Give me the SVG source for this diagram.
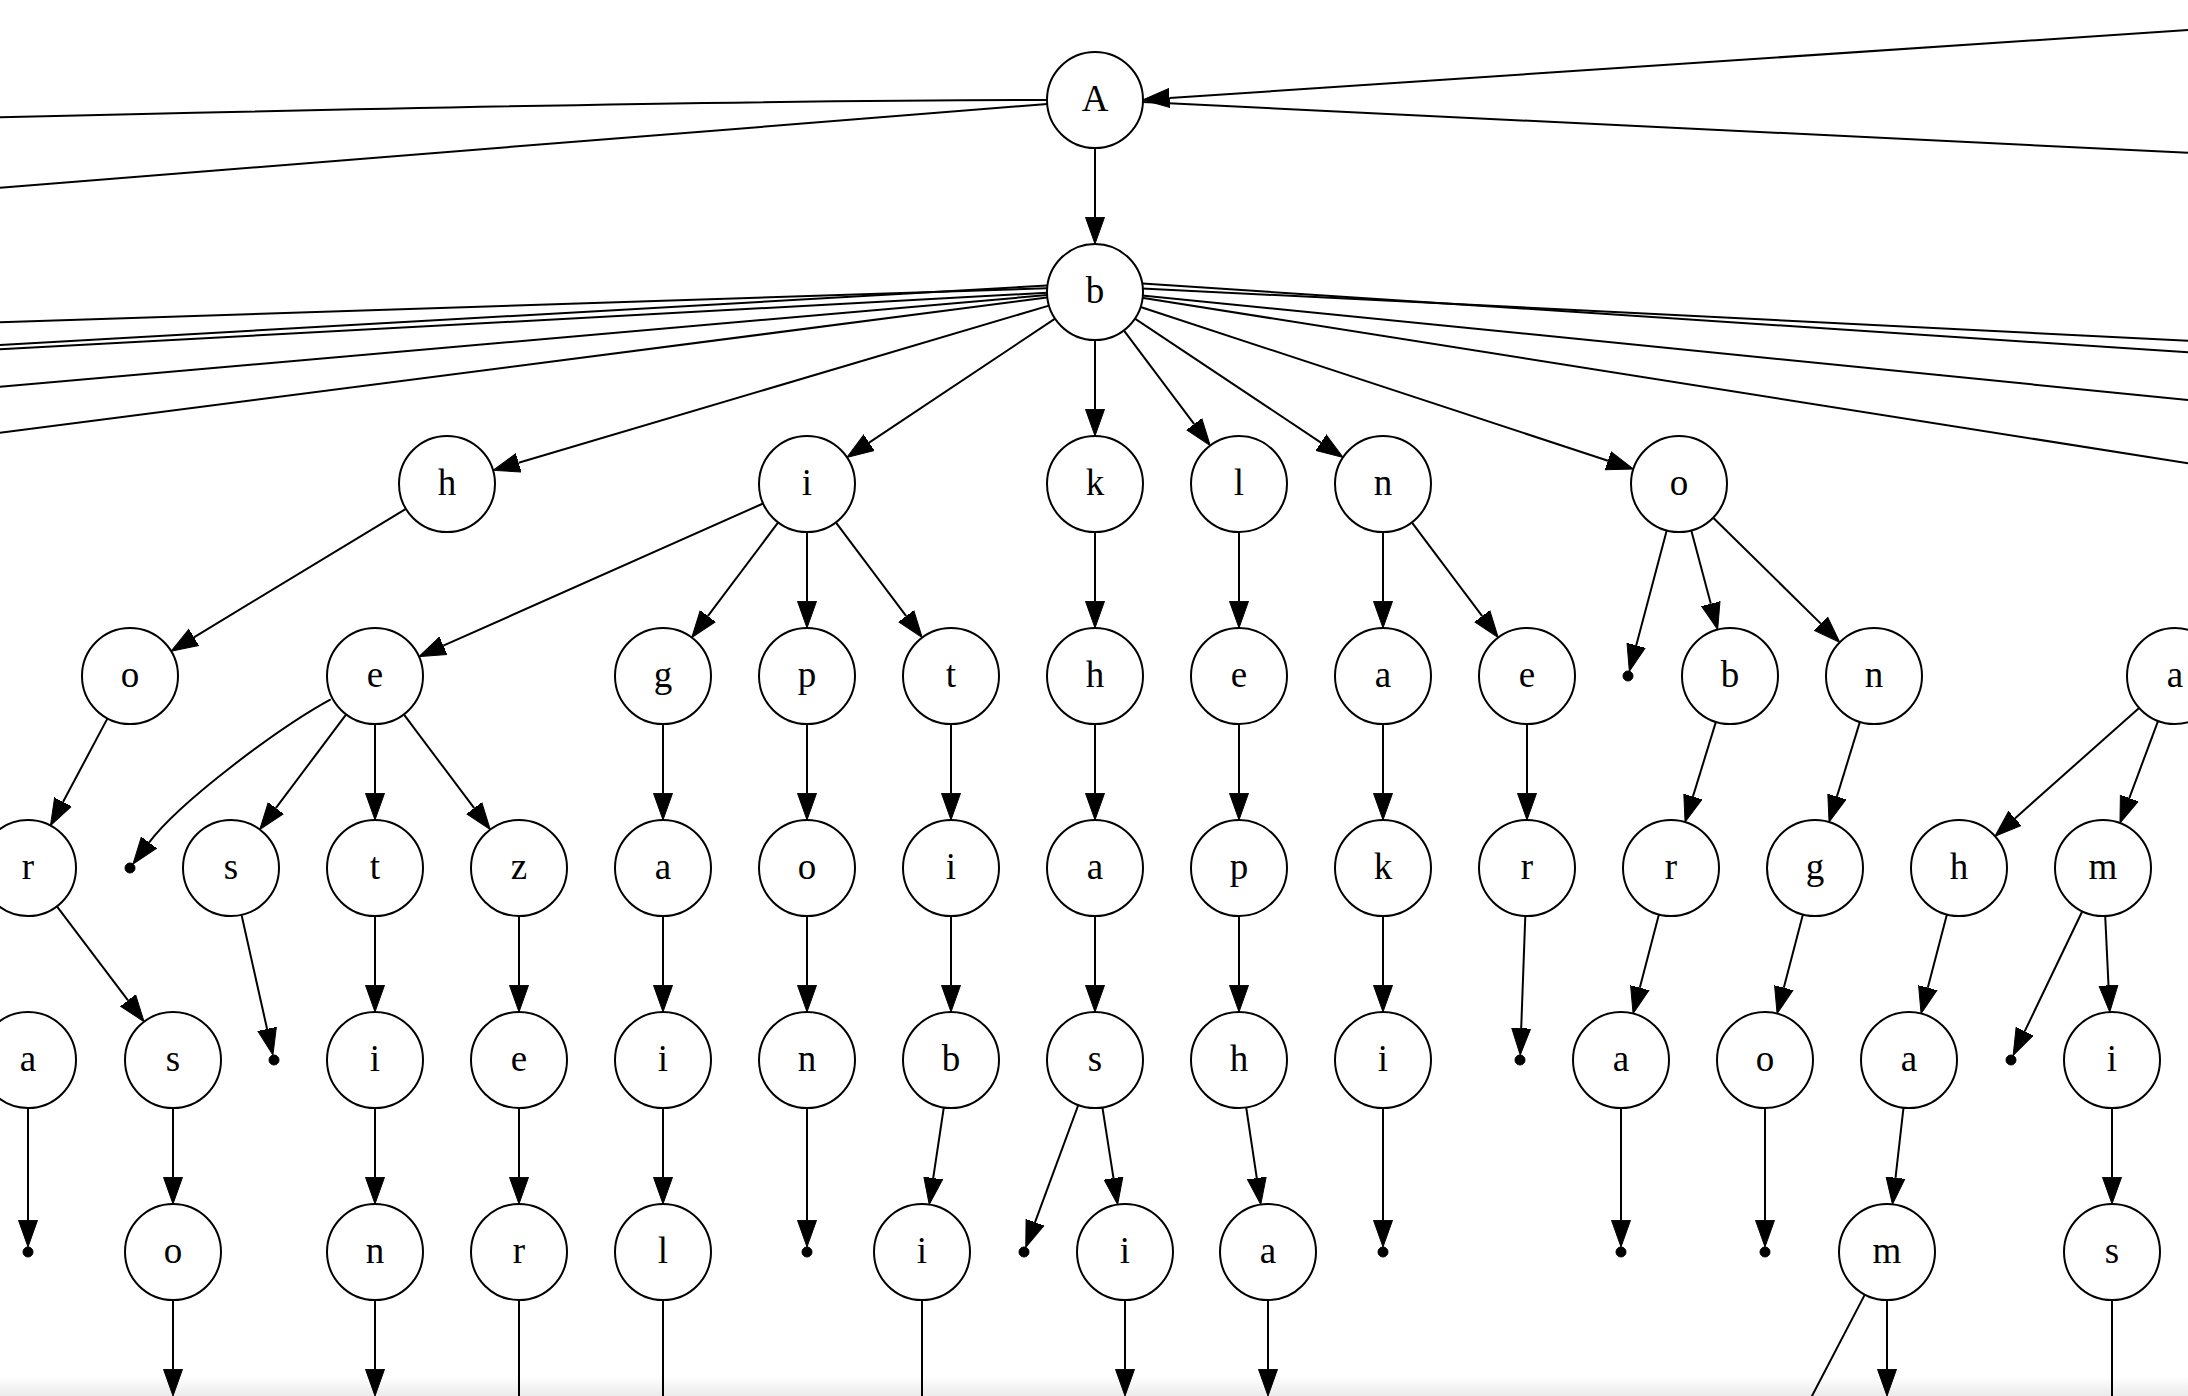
<svg xmlns="http://www.w3.org/2000/svg" width="2188" height="1396" viewBox="0 0 2188 1396">
<style>
.nd circle{fill:#fff;stroke:#000;stroke-width:2}
.nd text{font-family:"Liberation Serif","Times New Roman",serif;font-size:37px;text-anchor:middle;fill:#000}
.pt circle{fill:#000;stroke:#000;stroke-width:1}
#edges path{fill:none;stroke:#000;stroke-width:2}
#edges path.a{marker-end:url(#ah)}
</style>
<defs>
<marker id="ah" markerUnits="userSpaceOnUse" markerWidth="30" markerHeight="22" refX="0" refY="11" orient="auto" viewBox="0 0 30 22">
<path d="M0,1.5 L26.7,11 L0,20.5 z" fill="#000" stroke="#000" stroke-width="1"/>
</marker>
<linearGradient id="shade" x1="0" y1="0" x2="0" y2="1">
<stop offset="0" stop-color="#ffffff"/>
<stop offset="1" stop-color="#ebebeb"/>
</linearGradient>
</defs>
<rect x="0" y="0" width="2188" height="1396" fill="#fff"/>
<rect x="0" y="1376" width="2188" height="20" fill="url(#shade)"/>
<g id="edges">
<!-- off-canvas edges from A -->
<path d="M0,117.3 Q721,100 1047,100"/>
<path d="M0,187.7 L1047.2,104"/>
<path class="a" d="M2188,30 L1169.5,98"/>
<path d="M1143,102.1 L2188,152.7"/>
<!-- off-canvas edges from b -->
<path d="M0,322.3 L1047,288.3"/>
<path d="M0,345 L1047,285.6"/>
<path d="M0,349.3 L1047,292.8"/>
<path d="M0,386.7 L1047,295.1"/>
<path d="M0,432.7 L1047,297.6"/>
<path d="M1142,288.4 L2188,340.7"/>
<path d="M1142.5,283.5 L2188,352.3"/>
<path d="M1142,295.4 L2188,400"/>
<path d="M1142,297.8 L2188,463.3"/>
<!-- A -> b -->
<path class="a" d="M1095,148 V217.3"/>
<!-- b -> row3 -->
<path class="a" d="M1049,305.6 L518.6,462.8"/>
<path class="a" d="M1055.1,318.6 L869.1,442.6"/>
<path class="a" d="M1095,340 V409.3"/>
<path class="a" d="M1123.8,330.4 L1194.2,424.2"/>
<path class="a" d="M1134.9,318.6 L1320.9,442.6"/>
<path class="a" d="M1140.6,307 L1608,460.7"/>
<!-- row3 -> row4 -->
<path class="a" d="M405.9,508.9 L193.9,637.3"/>
<path class="a" d="M763.1,503.5 L443.3,645.7"/>
<path class="a" d="M778.2,522.4 L707.8,616.2"/>
<path class="a" d="M807,532 V601.3"/>
<path class="a" d="M835.8,522.4 L906.2,616.2"/>
<path class="a" d="M1095,532 V601.3"/>
<path class="a" d="M1239,532 V601.3"/>
<path class="a" d="M1383,532 V601.3"/>
<path class="a" d="M1411.8,522.4 L1482.2,616.2"/>
<path class="a" d="M1666.7,530.4 L1636.2,645.4"/>
<path class="a" d="M1691.3,530.4 L1710.8,603.8"/>
<path class="a" d="M1713.2,517.7 L1820.8,623.6"/>
<!-- row4 -> row5 -->
<path class="a" d="M107.5,718.4 L63,802"/>
<path class="a" d="M330.7,699.3 C278,728 179,802.6 149,842.6"/>
<path class="a" d="M346.2,714.4 L275.8,808.2"/>
<path class="a" d="M375,724 V793.3"/>
<path class="a" d="M403.8,714.4 L474.2,808.2"/>
<path class="a" d="M663,724 V793.3"/>
<path class="a" d="M807,724 V793.3"/>
<path class="a" d="M951,724 V793.3"/>
<path class="a" d="M1095,724 V793.3"/>
<path class="a" d="M1239,724 V793.3"/>
<path class="a" d="M1383,724 V793.3"/>
<path class="a" d="M1527,724 V793.3"/>
<path class="a" d="M1715.9,721.9 L1692.9,796.6"/>
<path class="a" d="M1859.9,721.9 L1836.9,796.6"/>
<path class="a" d="M2139.1,707.9 L2014.9,818.4"/>
<path class="a" d="M2158.1,720.9 L2129.3,798.1"/>
<!-- row5 -> row6 -->
<path class="a" d="M56.9,906.3 L128,1000.4"/>
<path class="a" d="M241.5,914.8 L267.1,1029"/>
<path class="a" d="M375,916 V985.3"/>
<path class="a" d="M519,916 V985.3"/>
<path class="a" d="M663,916 V985.3"/>
<path class="a" d="M807,916 V985.3"/>
<path class="a" d="M951,916 V985.3"/>
<path class="a" d="M1095,916 V985.3"/>
<path class="a" d="M1239,916 V985.3"/>
<path class="a" d="M1383,916 V985.3"/>
<path class="a" d="M1525.3,916 L1521.2,1028.3"/>
<path class="a" d="M1658.9,914.4 L1639.8,987.8"/>
<path class="a" d="M1802.9,914.4 L1783.8,987.8"/>
<path class="a" d="M1946.9,914.4 L1927.8,987.8"/>
<path class="a" d="M2082.3,911.3 L2024.7,1031.4"/>
<path class="a" d="M2105.2,916 L2108.5,985.4"/>
<!-- row6 -> row7 -->
<path class="a" d="M28,1108 V1220.3"/>
<path class="a" d="M173,1108 V1177.3"/>
<path class="a" d="M375,1108 V1177.3"/>
<path class="a" d="M519,1108 V1177.3"/>
<path class="a" d="M663,1108 V1177.3"/>
<path class="a" d="M807,1108 V1220.3"/>
<path class="a" d="M943.8,1107.5 L933.2,1178.1"/>
<path class="a" d="M1078.3,1105 L1035,1222.3"/>
<path class="a" d="M1102.4,1107.4 L1113.5,1178.2"/>
<path class="a" d="M1246.2,1107.5 L1256.8,1178.1"/>
<path class="a" d="M1383,1108 V1220.3"/>
<path class="a" d="M1621,1108 V1220.3"/>
<path class="a" d="M1765,1108 V1220.3"/>
<path class="a" d="M1903.5,1107.7 L1895.5,1177.8"/>
<path class="a" d="M2112,1108 V1177.3"/>
<!-- row7 -> below -->
<path class="a" d="M173,1300 V1369.3"/>
<path class="a" d="M375,1300 V1369.3"/>
<path d="M519,1300 V1400"/>
<path d="M663,1300 V1400"/>
<path d="M922,1300 V1400"/>
<path class="a" d="M1125,1300 V1369.3"/>
<path class="a" d="M1268,1300 V1369.3"/>
<path class="a" d="M1887,1300 V1369.3"/>
<path d="M1864.8,1294.6 L1809.9,1400"/>
<path d="M2112,1300 V1400"/>
</g>
<g id="nodes">
<g id="n_A" class="nd"><circle cx="1095" cy="100" r="48"/><text x="1095" y="111">A</text></g>
<g id="n_b" class="nd"><circle cx="1095" cy="292" r="48"/><text x="1095" y="303">b</text></g>
<g id="n_bh" class="nd"><circle cx="447" cy="484" r="48"/><text x="447" y="495">h</text></g>
<g id="n_bi" class="nd"><circle cx="807" cy="484" r="48"/><text x="807" y="495">i</text></g>
<g id="n_bk" class="nd"><circle cx="1095" cy="484" r="48"/><text x="1095" y="495">k</text></g>
<g id="n_bl" class="nd"><circle cx="1239" cy="484" r="48"/><text x="1239" y="495">l</text></g>
<g id="n_bn" class="nd"><circle cx="1383" cy="484" r="48"/><text x="1383" y="495">n</text></g>
<g id="n_bo" class="nd"><circle cx="1679" cy="484" r="48"/><text x="1679" y="495">o</text></g>
<g id="n_bho" class="nd"><circle cx="130" cy="676" r="48"/><text x="130" y="687">o</text></g>
<g id="n_bie" class="nd"><circle cx="375" cy="676" r="48"/><text x="375" y="687">e</text></g>
<g id="n_big" class="nd"><circle cx="663" cy="676" r="48"/><text x="663" y="687">g</text></g>
<g id="n_bip" class="nd"><circle cx="807" cy="676" r="48"/><text x="807" y="687">p</text></g>
<g id="n_bit" class="nd"><circle cx="951" cy="676" r="48"/><text x="951" y="687">t</text></g>
<g id="n_bkh" class="nd"><circle cx="1095" cy="676" r="48"/><text x="1095" y="687">h</text></g>
<g id="n_ble" class="nd"><circle cx="1239" cy="676" r="48"/><text x="1239" y="687">e</text></g>
<g id="n_bna" class="nd"><circle cx="1383" cy="676" r="48"/><text x="1383" y="687">a</text></g>
<g id="n_bne" class="nd"><circle cx="1527" cy="676" r="48"/><text x="1527" y="687">e</text></g>
<g id="p_bo" class="pt"><circle cx="1628" cy="676" r="5"/></g>
<g id="n_bob" class="nd"><circle cx="1730" cy="676" r="48"/><text x="1730" y="687">b</text></g>
<g id="n_bon" class="nd"><circle cx="1874" cy="676" r="48"/><text x="1874" y="687">n</text></g>
<g id="n_xa" class="nd"><circle cx="2175" cy="676" r="48"/><text x="2175" y="687">a</text></g>
<g id="n_bhor" class="nd"><circle cx="28" cy="868" r="48"/><text x="28" y="879">r</text></g>
<g id="p_bie" class="pt"><circle cx="130" cy="868" r="5"/></g>
<g id="n_bies" class="nd"><circle cx="231" cy="868" r="48"/><text x="231" y="879">s</text></g>
<g id="n_biet" class="nd"><circle cx="375" cy="868" r="48"/><text x="375" y="879">t</text></g>
<g id="n_biez" class="nd"><circle cx="519" cy="868" r="48"/><text x="519" y="879">z</text></g>
<g id="n_biga" class="nd"><circle cx="663" cy="868" r="48"/><text x="663" y="879">a</text></g>
<g id="n_bipo" class="nd"><circle cx="807" cy="868" r="48"/><text x="807" y="879">o</text></g>
<g id="n_biti" class="nd"><circle cx="951" cy="868" r="48"/><text x="951" y="879">i</text></g>
<g id="n_bkha" class="nd"><circle cx="1095" cy="868" r="48"/><text x="1095" y="879">a</text></g>
<g id="n_blep" class="nd"><circle cx="1239" cy="868" r="48"/><text x="1239" y="879">p</text></g>
<g id="n_bnak" class="nd"><circle cx="1383" cy="868" r="48"/><text x="1383" y="879">k</text></g>
<g id="n_bner" class="nd"><circle cx="1527" cy="868" r="48"/><text x="1527" y="879">r</text></g>
<g id="n_bobr" class="nd"><circle cx="1671" cy="868" r="48"/><text x="1671" y="879">r</text></g>
<g id="n_bong" class="nd"><circle cx="1815" cy="868" r="48"/><text x="1815" y="879">g</text></g>
<g id="n_xah" class="nd"><circle cx="1959" cy="868" r="48"/><text x="1959" y="879">h</text></g>
<g id="n_xam" class="nd"><circle cx="2103" cy="868" r="48"/><text x="2103" y="879">m</text></g>
<g id="n_ya" class="nd"><circle cx="28" cy="1060" r="48"/><text x="28" y="1071">a</text></g>
<g id="n_bhors" class="nd"><circle cx="173" cy="1060" r="48"/><text x="173" y="1071">s</text></g>
<g id="p_bies" class="pt"><circle cx="274" cy="1060" r="5"/></g>
<g id="n_bieti" class="nd"><circle cx="375" cy="1060" r="48"/><text x="375" y="1071">i</text></g>
<g id="n_bieze" class="nd"><circle cx="519" cy="1060" r="48"/><text x="519" y="1071">e</text></g>
<g id="n_bigai" class="nd"><circle cx="663" cy="1060" r="48"/><text x="663" y="1071">i</text></g>
<g id="n_bipon" class="nd"><circle cx="807" cy="1060" r="48"/><text x="807" y="1071">n</text></g>
<g id="n_bitib" class="nd"><circle cx="951" cy="1060" r="48"/><text x="951" y="1071">b</text></g>
<g id="n_bkhas" class="nd"><circle cx="1095" cy="1060" r="48"/><text x="1095" y="1071">s</text></g>
<g id="n_bleph" class="nd"><circle cx="1239" cy="1060" r="48"/><text x="1239" y="1071">h</text></g>
<g id="n_bnaki" class="nd"><circle cx="1383" cy="1060" r="48"/><text x="1383" y="1071">i</text></g>
<g id="p_bner" class="pt"><circle cx="1520" cy="1060" r="5"/></g>
<g id="n_bobra" class="nd"><circle cx="1621" cy="1060" r="48"/><text x="1621" y="1071">a</text></g>
<g id="n_bongo" class="nd"><circle cx="1765" cy="1060" r="48"/><text x="1765" y="1071">o</text></g>
<g id="n_xaha" class="nd"><circle cx="1909" cy="1060" r="48"/><text x="1909" y="1071">a</text></g>
<g id="p_xam" class="pt"><circle cx="2011" cy="1060" r="5"/></g>
<g id="n_xami" class="nd"><circle cx="2112" cy="1060" r="48"/><text x="2112" y="1071">i</text></g>
<g id="p_ya" class="pt"><circle cx="28" cy="1252" r="5"/></g>
<g id="n_bhorso" class="nd"><circle cx="173" cy="1252" r="48"/><text x="173" y="1263">o</text></g>
<g id="n_bietin" class="nd"><circle cx="375" cy="1252" r="48"/><text x="375" y="1263">n</text></g>
<g id="n_biezer" class="nd"><circle cx="519" cy="1252" r="48"/><text x="519" y="1263">r</text></g>
<g id="n_bigail" class="nd"><circle cx="663" cy="1252" r="48"/><text x="663" y="1263">l</text></g>
<g id="p_bipon" class="pt"><circle cx="807" cy="1252" r="5"/></g>
<g id="n_bitibi" class="nd"><circle cx="922" cy="1252" r="48"/><text x="922" y="1263">i</text></g>
<g id="p_bkhas" class="pt"><circle cx="1024" cy="1252" r="5"/></g>
<g id="n_bkhasi" class="nd"><circle cx="1125" cy="1252" r="48"/><text x="1125" y="1263">i</text></g>
<g id="n_blepha" class="nd"><circle cx="1268" cy="1252" r="48"/><text x="1268" y="1263">a</text></g>
<g id="p_bnaki" class="pt"><circle cx="1383" cy="1252" r="5"/></g>
<g id="p_bobra" class="pt"><circle cx="1621" cy="1252" r="5"/></g>
<g id="p_bongo" class="pt"><circle cx="1765" cy="1252" r="5"/></g>
<g id="n_xaham" class="nd"><circle cx="1887" cy="1252" r="48"/><text x="1887" y="1263">m</text></g>
<g id="n_xamis" class="nd"><circle cx="2112" cy="1252" r="48"/><text x="2112" y="1263">s</text></g>
</g>
</svg>
